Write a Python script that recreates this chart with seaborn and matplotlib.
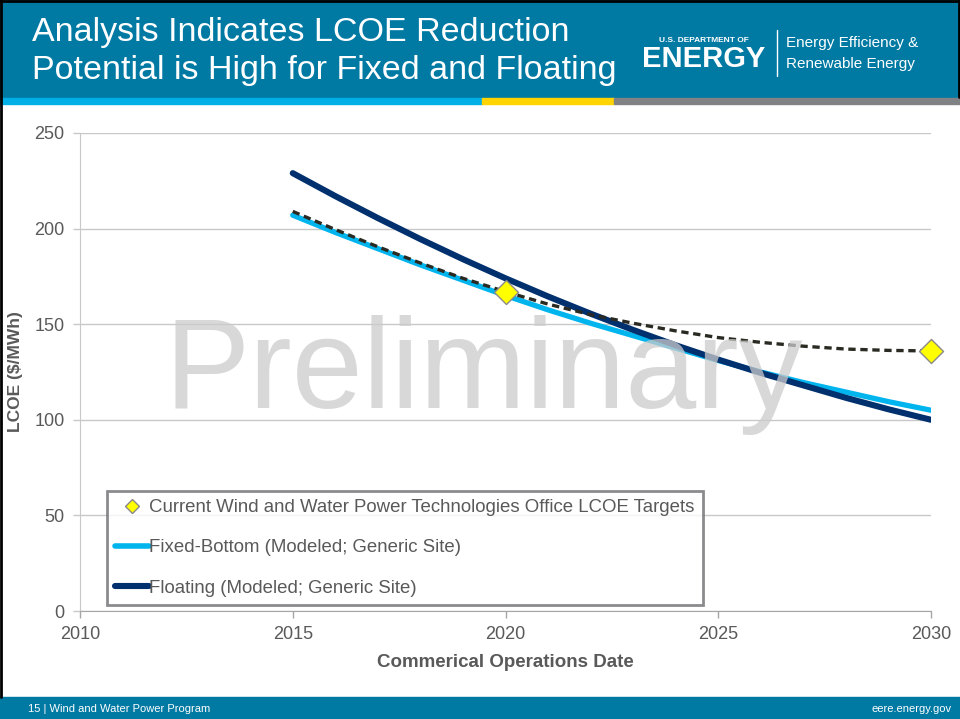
import matplotlib

matplotlib.use("Agg")

import matplotlib.pyplot as plt
import pandas as pd
import seaborn as sns
from matplotlib.lines import Line2D
from matplotlib.patches import Rectangle

years = list(range(2015, 2031))
fixed_bottom = [207, 198, 189.5, 181, 173, 165, 157.5, 150.5, 144, 137.5, 131, 125, 119.5, 114.5, 109.5, 105]
floating = [229, 217, 205.5, 194.5, 184, 174, 164.5, 155.5, 147, 139, 131.5, 124.5, 118, 111.5, 105.5, 100]
target_path = [209, 199.5, 190.5, 182, 174, 167, 160.5, 155, 150.5, 146.5, 143, 140.5, 138.5, 137, 136.3, 136]
target_years = [2020, 2030]
target_values = [167, 136]

labels = [
    "Current Wind and Water Power Technologies Office LCOE Targets",
    "Fixed-Bottom (Modeled; Generic Site)",
    "Floating (Modeled; Generic Site)",
]

TEAL = "#0079a3"
CYAN = "#00b4ee"
NAVY = "#00306e"
TXT = "#595959"

sns.set_style("white")
plt.rcParams["font.family"] = ["Liberation Sans", "DejaVu Sans"]

fig = plt.figure(figsize=(9.6, 7.19), dpi=100)

# slide chrome
fig.patches.append(Rectangle((0, 1 - 97 / 719), 1, 97 / 719, transform=fig.transFigure, color=TEAL, zorder=0))
fig.patches.append(Rectangle((0, 1 - 104 / 719), 482 / 960, 6 / 719, transform=fig.transFigure, color="#00afe6", zorder=0))
fig.patches.append(Rectangle((482 / 960, 1 - 104 / 719), 132 / 960, 6 / 719, transform=fig.transFigure, color="#ffd400", zorder=0))
fig.patches.append(Rectangle((614 / 960, 1 - 104 / 719), 346 / 960, 6 / 719, transform=fig.transFigure, color="#808285", zorder=0))
fig.patches.append(Rectangle((0, 0), 1, 22 / 719, transform=fig.transFigure, color=TEAL, zorder=0))
fig.lines.append(Line2D([0.001, 0.001], [0.03, 1], transform=fig.transFigure, color="black", lw=2))
fig.lines.append(Line2D([0, 1], [0.999, 0.999], transform=fig.transFigure, color="black", lw=2))
fig.lines.append(Line2D([0.999, 0.999], [0.865, 1], transform=fig.transFigure, color="black", lw=2))

fig.text(32 / 960, 1 - 32 / 719, "Analysis Indicates LCOE Reduction", color="white", fontsize=24.5, va="center")
fig.text(32 / 960, 1 - 70 / 719, "Potential is High for Fixed and Floating", color="white", fontsize=24.5, va="center")
fig.text(704 / 960, 1 - 40 / 719, "U.S. DEPARTMENT OF", color="white", fontsize=6, fontweight="bold", ha="center", va="center")
fig.text(704 / 960, 1 - 59 / 719, "ENERGY", color="white", fontsize=21, fontweight="bold", ha="center", va="center")
fig.lines.append(Line2D([777 / 960, 777 / 960], [1 - 30 / 719, 1 - 76 / 719], transform=fig.transFigure, color="white", lw=1))
fig.text(786 / 960, 1 - 43 / 719, "Energy Efficiency &", color="white", fontsize=11, va="center")
fig.text(786 / 960, 1 - 64 / 719, "Renewable Energy", color="white", fontsize=11, va="center")
fig.text(28 / 960, 1 - 709 / 719, "15 | Wind and Water Power Program", color="white", fontsize=8, va="center")
fig.text(952 / 960, 1 - 709 / 719, "eere.energy.gov", color="white", fontsize=8, va="center", ha="right")

ax = fig.add_axes([80 / 960, 108 / 719, 851 / 960, 478 / 719])

df = pd.DataFrame({"year": years, "fixed": fixed_bottom, "floating": floating, "target": target_path})
sns.lineplot(data=df, x="year", y="fixed", ax=ax, color=CYAN, lw=3.8, zorder=3)
sns.lineplot(data=df, x="year", y="floating", ax=ax, color=NAVY, lw=4.4, zorder=3, solid_capstyle="round")
sns.lineplot(data=df, x="year", y="target", ax=ax, color="#2a2a22", lw=2.4, zorder=4, linestyle=(0, (2.2, 1.4)))
sns.scatterplot(x=target_years, y=target_values, ax=ax, marker="D", s=150, color="#ffff00",
                edgecolor="#8a8a8a", linewidth=1, zorder=6, clip_on=False)

ax.text(2019.5, 106, "Preliminary", fontsize=92, color="#cccccc", alpha=0.75, ha="center", va="baseline", zorder=5)

ax.set_xlim(2010, 2030)
ax.set_ylim(0, 250)
ax.set_xticks(range(2010, 2031, 5))
ax.set_yticks(range(0, 251, 50))
ax.yaxis.grid(True, color="#c8c8c8", lw=1)
ax.set_axisbelow(True)
for side in ["top", "right"]:
    ax.spines[side].set_visible(False)
ax.spines["left"].set_color("#c8c8c8")
ax.spines["bottom"].set_color("#a6a6a6")
ax.tick_params(axis="both", labelsize=13, colors=TXT, length=5, width=1, direction="out", left=True, bottom=True)
ax.tick_params(axis="y", color="#c8c8c8", pad=6)
ax.tick_params(axis="x", color="#a6a6a6", pad=6)
ax.set_xlabel("Commerical Operations Date", fontsize=13.5, fontweight="bold", color=TXT, labelpad=8)
ax.set_ylabel("LCOE ($/MWh)", fontsize=12.5, fontweight="bold", color=TXT, labelpad=8)

handles = [
    Line2D([], [], marker="D", color="#ffff00", markeredgecolor="#8a8a8a", markersize=7, lw=0),
    Line2D([], [], color=CYAN, lw=4),
    Line2D([], [], color=NAVY, lw=4.4),
]
leg = ax.legend(handles, labels, loc="lower left", bbox_to_anchor=(107 / 960, 114 / 719),
                bbox_transform=fig.transFigure, fontsize=13.4, labelcolor=TXT, frameon=True,
                fancybox=False, edgecolor="#6d6e71", handlelength=1.8, handletextpad=0.0,
                labelspacing=1.25, borderpad=0.45, borderaxespad=0)
leg.get_frame().set_linewidth(2)
leg.set_zorder(10)

plt.savefig("out.png", dpi=100)
plt.close()
